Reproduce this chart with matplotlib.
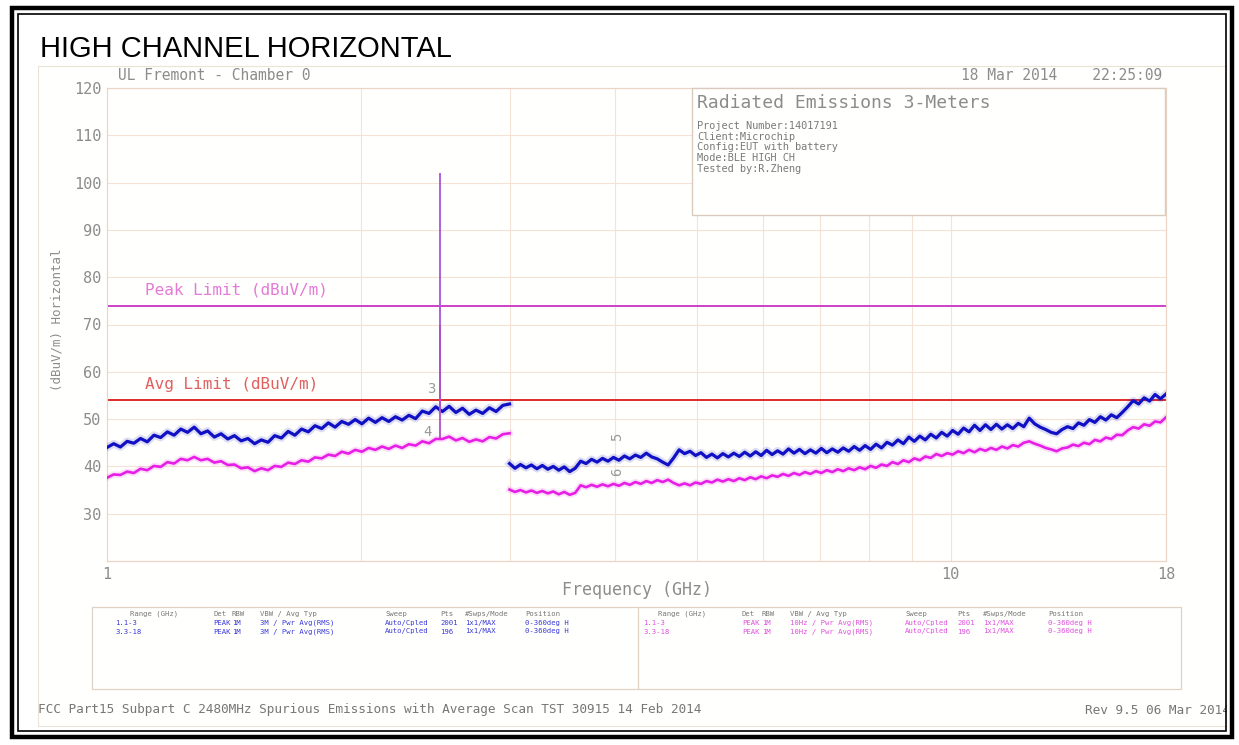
import numpy as np
import matplotlib
matplotlib.use('Agg')
import matplotlib.pyplot as plt
from matplotlib.patches import Rectangle

W, H = 1239, 745

# sweep points (GHz) for the two scan ranges
f_lo = np.geomspace(1.0, 3.0, 61)
f_hi = np.geomspace(3.0, 18.0, 121)

# peak detector trace (dBuV/m)
peak_lo = [44.0, 44.8, 44.1, 45.3, 44.9, 45.9, 45.2, 46.6, 46.1, 47.3,
           46.6, 47.9, 47.2, 48.3, 46.9, 47.5, 46.2, 46.9, 45.8, 46.5,
           45.4, 45.9, 44.8, 45.6, 45.1, 46.5, 46.0, 47.4, 46.6, 47.9,
           47.3, 48.6, 48.0, 49.2, 48.3, 49.5, 48.9, 49.9, 49.0, 50.2,
           49.3, 50.3, 49.5, 50.5, 49.8, 50.8, 50.1, 51.7, 51.2, 52.6,
           51.6, 52.7, 51.4, 52.3, 51.0, 51.9, 51.2, 52.4, 51.6, 52.9, 53.2]
peak_hi = [40.6, 39.6, 40.4, 39.7, 40.3, 39.5, 40.2, 39.4, 40.0, 39.2,
           39.9, 38.9, 39.6, 41.1, 40.6, 41.5, 40.9, 41.7, 41.1, 41.9,
           41.3, 42.2, 41.6, 42.4, 41.9, 42.8, 42.0, 41.6, 40.9, 40.3,
           41.8, 43.5, 42.7, 43.2, 42.3, 42.9, 41.9, 42.6, 41.8, 42.7,
           42.0, 42.8, 42.1, 43.0, 42.2, 43.1, 42.3, 43.4, 42.5, 43.3,
           42.6, 43.7, 42.8, 43.6, 42.7, 43.5, 42.8, 43.8, 42.9, 43.7,
           43.0, 43.9, 43.2, 44.2, 43.4, 44.4, 43.6, 44.7, 43.9, 45.1,
           44.5, 45.6, 44.8, 46.2, 45.3, 46.4, 45.6, 46.8, 46.0, 47.2,
           46.4, 47.6, 46.8, 48.1, 47.3, 48.7, 47.6, 48.8, 47.8, 48.9,
           47.9, 48.8, 48.0, 49.1, 48.4, 50.2, 49.0, 48.3, 47.8, 47.2,
           46.9, 47.8, 48.4, 48.0, 49.2, 48.7, 49.9, 49.3, 50.5, 49.8,
           50.9, 50.3, 51.4, 52.6, 53.9, 53.2, 54.5, 53.8, 55.2, 54.3, 55.3]

# average detector trace (dBuV/m)
avg_lo = [37.6, 38.3, 38.2, 38.9, 38.6, 39.5, 39.2, 40.1, 39.9, 40.9,
          40.6, 41.6, 41.3, 42.0, 41.3, 41.6, 40.8, 41.1, 40.3, 40.4,
          39.6, 39.8, 39.0, 39.6, 39.2, 40.1, 39.9, 40.8, 40.5, 41.3,
          41.0, 41.9, 41.7, 42.5, 42.2, 43.1, 42.7, 43.5, 43.1, 43.9,
          43.5, 44.2, 43.7, 44.4, 43.9, 44.7, 44.4, 45.3, 44.9, 45.8,
          45.8, 46.3, 45.5, 46.0, 45.2, 45.7, 45.3, 46.2, 45.9, 46.8, 47.0]
avg_hi = [35.1, 34.6, 35.0, 34.5, 34.9, 34.4, 34.8, 34.3, 34.7, 34.1,
          34.6, 34.0, 34.4, 36.0, 35.6, 36.1, 35.7, 36.2, 35.8, 36.3,
          35.9, 36.5, 36.1, 36.7, 36.3, 36.9, 36.5, 37.1, 36.7, 37.2,
          36.5, 36.0, 36.4, 36.0, 36.6, 36.3, 36.9, 36.6, 37.2, 36.8,
          37.3, 36.9, 37.5, 37.1, 37.7, 37.3, 37.9, 37.5, 38.1, 37.8,
          38.4, 38.0, 38.6, 38.2, 38.8, 38.4, 39.0, 38.6, 39.2, 38.8,
          39.4, 39.0, 39.6, 39.2, 39.8, 39.4, 40.1, 39.7, 40.4, 40.1,
          40.9, 40.5, 41.3, 40.9, 41.7, 41.3, 42.1, 41.8, 42.6, 42.2,
          42.8, 42.5, 43.2, 42.8, 43.5, 43.0, 43.7, 43.3, 43.9, 43.5,
          44.2, 43.8, 44.5, 44.2, 45.0, 45.3, 44.8, 44.4, 43.9, 43.6,
          43.2, 43.8, 44.0, 44.6, 44.3, 45.0, 44.7, 45.6, 45.3, 46.1,
          45.8, 46.7, 46.6, 47.6, 48.3, 48.0, 48.9, 48.6, 49.5, 49.3, 50.4]

# carrier at 2480 MHz
spike_freq = 2.48
spike_peak = [52.0, 102.0]
spike_avg = [46.0, 70.0]

peak_limit = 74
avg_limit = 54

marker_labels = ['3', '4', '5', '6']
marker_freq = [2.42, 2.40, 4.02, 4.02]
marker_level = [56.3, 47.2, 46.2, 38.8]
marker_rot = [0, 0, 90, 90]

y_ticks = [30, 40, 50, 60, 70, 80, 90, 100, 110, 120]
x_ticks = [1, 10, 18]
x_grid = [2, 3, 4, 5, 6, 7, 8, 9, 10]

info_title = 'Radiated Emissions 3-Meters'
info_lines = ['Project Number:14017191', 'Client:Microchip',
              'Config:EUT with battery', 'Mode:BLE HIGH CH',
              'Tested by:R.Zheng']

tbl_head = ['Range (GHz)', 'Det', 'RBW', 'VBW / Avg Typ', 'Sweep', 'Pts',
            '#Swps/Mode', 'Position']
tbl_left = [['1.1-3', 'PEAK', '1M', '3M / Pwr Avg(RMS)', 'Auto/Cpled', '2001',
             '1x1/MAX', '0-360deg H'],
            ['3.3-18', 'PEAK', '1M', '3M / Pwr Avg(RMS)', 'Auto/Cpled', '196',
             '1x1/MAX', '0-360deg H']]
tbl_right = [['1.1-3', 'PEAK', '1M', '10Hz / Pwr Avg(RMS)', 'Auto/Cpled', '2001',
              '1x1/MAX', '0-360deg H'],
             ['3.3-18', 'PEAK', '1M', '10Hz / Pwr Avg(RMS)', 'Auto/Cpled', '196',
              '1x1/MAX', '0-360deg H']]

BLUE = '#1010c4'
MAG = '#e61ee6'
GRAY = '#8c8c8c'
GRID = '#f4e2d6'
MONO = 'DejaVu Sans Mono'

fig = plt.figure(figsize=(W / 100, H / 100), dpi=100)
fig.patch.set_facecolor('white')


def ftext(x, y, s, **kw):
    kw.setdefault('family', MONO)
    kw.setdefault('color', GRAY)
    return fig.text(x / W, 1 - y / H, s, **kw)


def frect(x0, y0, x1, y1, **kw):
    r = Rectangle((x0 / W, 1 - y1 / H), (x1 - x0) / W, (y1 - y0) / H,
                  transform=fig.transFigure, **kw)
    fig.add_artist(r)
    return r


# screenshot area
frect(38, 66, 1229, 726, fill=True, facecolor='#fffffd', edgecolor='#ece2d8',
      lw=0.8, zorder=0)

ax = fig.add_axes([107 / W, 1 - 561 / H, 1059 / W, 473 / H])
ax.set_facecolor('none')
ax.set_xscale('log')
ax.set_xlim(1, 18)
ax.set_ylim(20, 120)

for g in x_grid:
    ax.axvline(g, color=GRID, lw=0.8, zorder=0)
for t in y_ticks:
    ax.axhline(t, color=GRID, lw=0.8, zorder=0)
for s in ax.spines.values():
    s.set_color('#ecd4c6')
    s.set_linewidth(0.9)

ax.set_yticks(y_ticks)
ax.set_yticklabels([str(t) for t in y_ticks], family=MONO, fontsize=11, color=GRAY)
ax.set_xticks(x_ticks)
ax.set_xticklabels([str(t) for t in x_ticks], family=MONO, fontsize=11, color=GRAY)
ax.xaxis.set_minor_locator(plt.NullLocator())
ax.tick_params(length=0, pad=4)

# limit lines
ax.axhline(peak_limit, color='#cc40cc', lw=1.4, zorder=2)
ax.axhline(avg_limit, color='#e02a2a', lw=1.4, zorder=2)
ax.text(1.11, peak_limit + 2.3, 'Peak Limit (dBuV/m)', family=MONO, fontsize=11.5,
        color='#e57ad8')
ax.text(1.11, avg_limit + 2.3, 'Avg Limit (dBuV/m)', family=MONO, fontsize=11.5,
        color='#e06060')

# traces
for f, v in [(f_lo, avg_lo), (f_hi, avg_hi)]:
    ax.plot(f, v, color=MAG, lw=4.5, alpha=0.14, zorder=3)
    ax.plot(f, v, color=MAG, lw=1.9, zorder=4)
for f, v in [(f_lo, peak_lo), (f_hi, peak_hi)]:
    ax.plot(f, v, color=BLUE, lw=5.5, alpha=0.14, zorder=5)
    ax.plot(f, v, color=BLUE, lw=2.3, zorder=6)

ax.vlines(spike_freq, spike_peak[0], spike_peak[1], color='#a855d8', lw=1.3, zorder=7)
ax.vlines(spike_freq, spike_avg[0], spike_avg[1], color='#b04ec8', lw=1.3, zorder=7)

for lab, fq, lv, rot in zip(marker_labels, marker_freq, marker_level, marker_rot):
    ax.text(fq, lv, lab, family=MONO, fontsize=10, color='#999999', rotation=rot,
            ha='center', va='center', zorder=8)

# labels
ftext(57, 320, '(dBuV/m) Horizontal', fontsize=9, rotation=90, ha='center', va='center')
ftext(637, 590, 'Frequency (GHz)', fontsize=12, ha='center', va='center')
ftext(118, 76, 'UL Fremont - Chamber 0', fontsize=10.5, va='center')
ftext(1162, 76, '18 Mar 2014    22:25:09', fontsize=10.5, va='center', ha='right')

# info box
frect(692, 88, 1165, 215, fill=True, facecolor='#fffffd', edgecolor='#d9ccbf',
      lw=1.0, zorder=1)
ftext(697, 103, info_title, fontsize=13, va='center')
for i, line in enumerate(info_lines):
    ftext(697, 126 + i * 10.7, line, fontsize=7.4, va='center', color='#7a7a7a')

# setup table
frect(92, 607, 1181, 689, fill=False, edgecolor='#e0d2c4', lw=0.9)
fig.add_artist(plt.Line2D([638 / W, 638 / W], [1 - 607 / H, 1 - 689 / H],
                          transform=fig.transFigure, color='#e0d2c4', lw=0.9))
cols_l = [115, 213, 232, 260, 385, 440, 465, 525]
cols_r = [643, 742, 762, 790, 905, 957, 983, 1048]
for cols, rows, col in [(cols_l, tbl_left, '#3a3ad8'), (cols_r, tbl_right, '#e050e0')]:
    for c, h in zip(cols, tbl_head):
        ftext(c + (15 if h.startswith('Range') else 0), 614, h, fontsize=5.2,
              va='center', color='#777777')
    for r, row in enumerate(rows):
        for c, s in zip(cols, row):
            ftext(c, 623 + r * 8.5, s, fontsize=5.2, va='center', color=col)

# footer
ftext(38, 710, 'FCC Part15 Subpart C 2480MHz Spurious Emissions with Average Scan TST 30915 14 Feb 2014',
      fontsize=9.2, va='center', color='#777777')
ftext(1085, 710, 'Rev 9.5 06 Mar 2014', fontsize=9.2, va='center', color='#777777')

# title
fig.text(40 / W, 1 - 49 / H, 'HIGH CHANNEL HORIZONTAL', family='Liberation Sans',
         fontsize=21, va='center', color='black')

# document frame
frect(1227, 0, W, H, fill=True, facecolor='white', edgecolor='none', zorder=9)
frect(12, 8, 1232, 737, fill=False, edgecolor='black', lw=3.2, zorder=10)
frect(18, 14, 1226, 731, fill=False, edgecolor='black', lw=1.2, zorder=10)

fig.savefig('out.png', dpi=100)
